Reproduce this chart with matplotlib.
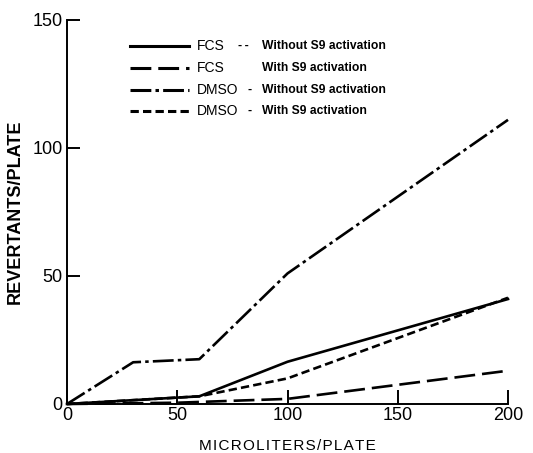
import matplotlib
matplotlib.use("Agg")
import matplotlib.pyplot as plt
from matplotlib.lines import Line2D

plt.rcParams['font.family'] = ['Liberation Sans', 'DejaVu Sans']
plt.rcParams['lines.scale_dashes'] = False

# data
x_fcs_wo = [0, 60, 100, 200]
y_fcs_wo = [0, 3, 16.5, 41]
x_fcs_w = [0, 50, 100, 200]
y_fcs_w = [0, 0.5, 2, 13]
x_dmso_wo = [0, 30, 60, 100, 200]
y_dmso_wo = [0, 16.3, 17.5, 51, 111]
x_dmso_w = [0, 60, 100, 200]
y_dmso_w = [0, 3, 10, 41.5]

solvents = ["FCS", "FCS", "DMSO", "DMSO"]
conditions = ["-- Without S9 activation", "With S9 activation",
              "- Without S9 activation", "- With S9 activation"]

xticks = [0, 50, 100, 150, 200]
yticks = [0, 50, 100, 150]

W, H = 533, 453
fig = plt.figure(figsize=(W/100, H/100), dpi=100)
ax = fig.add_axes([67/W, 1-404/H, (508-67)/W, (404-20)/H])

lw = 1.9
styles = [
    dict(linestyle='-'),
    dict(linestyle=(0, (15, 5))),
    dict(linestyle=(0, (15, 3, 2.5, 3))),
    dict(linestyle=(0, (6, 3))),
]
series = [(x_fcs_wo, y_fcs_wo), (x_fcs_w, y_fcs_w), (x_dmso_wo, y_dmso_wo), (x_dmso_w, y_dmso_w)]
for (xs, ys), st in zip(series, styles):
    ax.plot(xs, ys, color='black', lw=lw, clip_on=False, **st)

ax.set_xlim(0, 200)
ax.set_ylim(0, 150)
ax.set_xticks(xticks)
ax.set_yticks(yticks)
for s in ['top', 'right']:
    ax.spines[s].set_visible(False)
for s in ['left', 'bottom']:
    ax.spines[s].set_linewidth(1.4)
ax.tick_params(axis='x', direction='in', length=10, width=1.4, pad=2, labelsize=13)
ax.tick_params(axis='y', direction='in', length=9.5, width=1.4, pad=3, labelsize=13)
ax.set_xlabel("\u200a".join("MICROLITERS/PLATE"), fontsize=11, labelpad=11)
ax.set_ylabel("REVERTANTS/PLATE", fontsize=13, fontweight='bold', labelpad=6)

# legend (manual)
rows_y = [46, 68, 90, 111]
for i, (st, sol, cond) in enumerate(zip(styles, solvents, conditions)):
    yy = 1 - rows_y[i]/H
    fig.add_artist(Line2D([130/W, 189/W], [yy, yy], color='black', lw=lw + 0.3, **st))
    fig.text(197/W, yy, sol, fontsize=10, va='center', ha='left')
    cx = 262/W
    if cond.startswith("--"):
        fig.text(238/W, yy, "-\u2009-", fontsize=9, va='center', ha='left', fontweight='bold')
        fig.text(cx, yy, cond[3:], fontsize=8.7, va='center', ha='left', fontweight='bold')
    elif cond.startswith("-"):
        fig.text(247/W, yy, "-", fontsize=9, va='center', ha='left', fontweight='bold')
        fig.text(cx, yy, cond[2:], fontsize=8.7, va='center', ha='left', fontweight='bold')
    else:
        fig.text(cx, yy, cond, fontsize=8.7, va='center', ha='left', fontweight='bold')

fig.savefig("out.png", dpi=100)
